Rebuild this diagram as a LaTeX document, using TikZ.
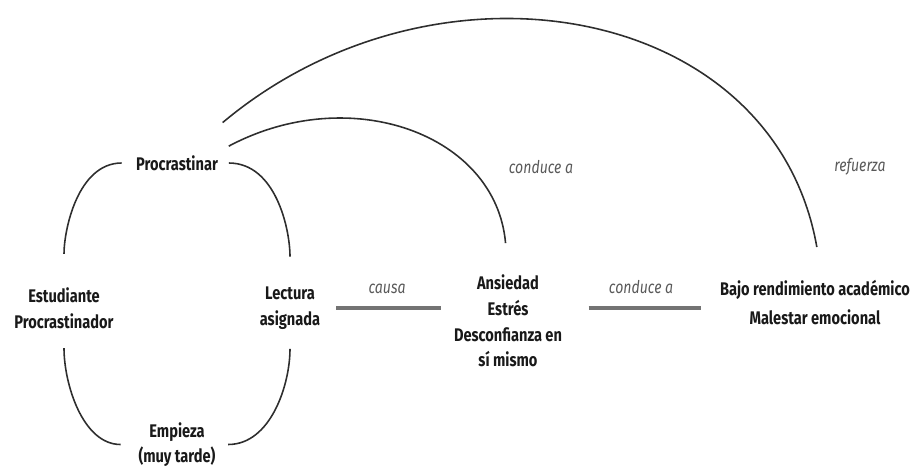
\documentclass[tikz,border=0pt]{standalone}
\usepackage{fontspec}
\setmainfont{Fira Sans}[FakeStretch=0.8]
\usetikzlibrary{calc}

\begin{document}
\begin{tikzpicture}[x=0.02cm, y=0.02cm,
    box/.style={font=\bfseries\fontsize{10.4}{14.6}\selectfont, text=black!90, align=center, inner sep=2pt},
    lbl/.style={font=\itshape\fontsize{10}{12}\selectfont, text=black!65, inner sep=2pt},
    arc/.style={line width=0.9pt, color=black!82},
    bar/.style={line width=2pt, color=black!55}]
			%%%%% START %%%%%
			\useasboundingbox (0,0) rectangle (914,468);
			
			% cycle
			\node[box] (proc) at (177,305) {Procrastinar};
			\node[box] (estu) at (64,160) {Estudiante\\Procrastinador};
			\node[box] (lect) at (290,160) {Lectura\\asignada};
			\node[box] (emp) at (177,23.5) {Empieza\\(muy tarde)};
			
			\draw[arc, shorten <=6pt, shorten >=17pt] (proc.west) to[out=180, in=90] (estu.north);
			\draw[arc, shorten <=4pt, shorten >=15pt] (proc.east) to[out=0, in=90] (lect.north);
			\draw[arc, shorten <=9pt, shorten >=8pt] (estu.south) to[out=-90, in=180] (emp.west);
			\draw[arc, shorten <=9pt, shorten >=5pt] (lect.south) to[out=-90, in=0] (emp.east);
			
			% effects
			\node[box] (ans) at (508,147) {Ansiedad\\Estrés\\Desconfianza en\\sí mismo};
			\node[box, font=\bfseries\fontsize{10.4}{16.4}\selectfont] (bajo) at (815,165.5) {Bajo rendimiento académico\\Malestar emocional};
			
			\draw[bar, shorten <=7pt, shorten >=5pt] (lect.east) -- (lect.east -| ans.west)
			    node[lbl, midway, above=5pt] (causa) {causa};
			\draw[bar, shorten <=13pt, shorten >=9pt] (ans.east |- lect.east) -- (bajo.west |- lect.east)
			    node[lbl, midway, above=5pt] (lleva) {conduce a};
			
			% feedback arcs
			\draw[arc, shorten >=16pt] ([xshift=4pt, yshift=9.6pt]proc.east) to[out=28, in=95, looseness=1.15] (ans.north);
			\draw[arc, shorten >=17pt] ([xshift=0.5pt, yshift=23pt]proc.east) to[out=40, in=100, looseness=1.15] ([xshift=4pt]bajo.north);
			\node[lbl] (conduce) at (541,301) {conduce a};
			\node[lbl] (refuerza) at (860,301) {refuerza};
			
			%%%%% END %%%%%
\end{tikzpicture}
\end{document}
